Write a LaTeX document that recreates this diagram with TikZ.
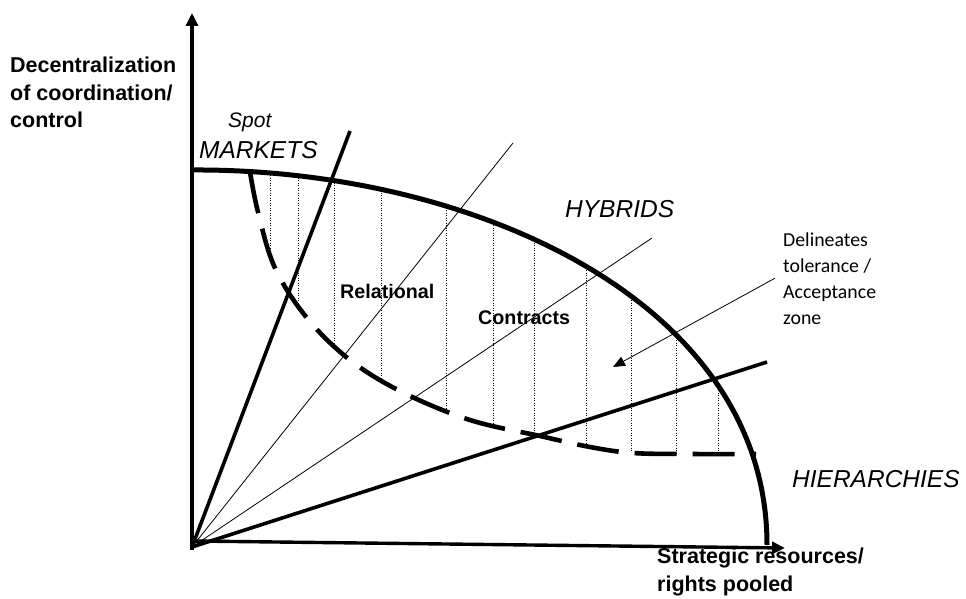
\documentclass[tikz,border=0pt]{standalone}
\usepackage{fontspec}
\setmainfont{Liberation Sans}
\newfontfamily\notefont{Carlito}
\usetikzlibrary{arrows.meta, positioning}
\tikzset{thickray/.style={line width=3.6pt}}
\tikzset{thinray/.style={line width=0.8pt}}
\tikzset{axis/.style={line width=3.4pt, -{Triangle[length=13pt, width=12pt]}}}
\tikzset{frontier/.style={line width=5pt}}
\tikzset{zoneline/.style={line width=4.6pt, dash pattern=on 42pt off 16pt}}
\tikzset{hatch/.style={line width=0.6pt, dash pattern=on 1pt off 1.5pt}}
\tikzset{pointer/.style={line width=0.8pt, -{Triangle[length=12pt, width=10pt]}}}
\tikzset{axlabel/.style={anchor=base west, inner sep=0pt, align=left, font=\bfseries\fontsize{21.5}{27.5}\selectfont}}
\tikzset{formlabel/.style={anchor=base west, inner sep=0pt, font=\itshape\fontsize{24.5}{28}\selectfont}}
\tikzset{zonelabel/.style={anchor=base west, inner sep=0pt, font=\bfseries\fontsize{19.7}{24}\selectfont}}
\tikzset{notelabel/.style={anchor=base west, inner sep=0pt, align=left, font=\notefont\fontsize{19.8}{26}\selectfont}}

\begin{document}
\begin{tikzpicture}[x=1pt, y=-1pt]
    \useasboundingbox (0,0) rectangle (966,599);

    \coordinate (O) at (192,547);
    \coordinate (ytop) at (192,13);
    \coordinate (ybot) at (192,550);
    \coordinate (xleft) at (192,541);
    \coordinate (xright) at (785,548);

    \begin{scope}
        \clip (191,170) .. controls (470,168) and (767,300) .. (767,545) -- (191,545) -- cycle;
        \clip plot[smooth, tension=0.6] coordinates {(250,172) (258,212) (275,268) (307,318) (350,360) (402,392) (470,420) (540,436) (590,447) (633,453) (690,454) (756,454)} -- (756,0) -- (250,0) -- cycle;
        \foreach \x in {270,298,334,381,446,493,534,586,631,676,718}
            \draw[hatch] (\x,150) -- (\x,470);
    \end{scope}

    \draw[axis] (ybot) -- (ytop);
    \draw[axis] (xleft) -- (xright);

    \coordinate (raya) at (350,131);
    \coordinate (rayb) at (513,143);
    \coordinate (rayc) at (652,238);
    \coordinate (rayd) at (767,362);
    \draw[thickray] (O) -- (raya);
    \draw[thinray] (O) -- (rayb);
    \draw[thinray] (O) -- (rayc);
    \draw[thickray] (O) -- (rayd);

    \draw[frontier] (191,170) .. controls (470,168) and (767,300) .. (767,545);
    \draw[zoneline] plot[smooth, tension=0.6] coordinates {(250,172) (258,212) (275,268) (307,318) (350,360) (402,392) (470,420) (540,436) (590,447) (633,453) (690,454) (756,454)};

    \node[axlabel] (ylabel) at (10,128) {Decentralization\\of coordination/\\control};
    \node[axlabel] (xlabel) at (657,591) {Strategic resources/\\rights pooled};
    \node[anchor=base west, inner sep=0pt, font=\itshape\fontsize{21}{24}\selectfont] (spot) at (228,128) {Spot};
    \node[formlabel] (markets) at (199,158) {MARKETS};
    \node[formlabel] (hybrids) at (565,217) {HYBRIDS};
    \node[formlabel] (hierarchies) at (792,487) {HIERARCHIES};
    \node[zonelabel] (relational) at (340,298) {Relational};
    \node[zonelabel] (contracts) at (478,324) {Contracts};
    \node[notelabel] (note) at (783,324) {Delineates\\tolerance /\\Acceptance\\zone};

    \coordinate (tip) at (613,367);
    \draw[pointer] ([xshift=-8pt]note.west) -- (tip);
\end{tikzpicture}
\end{document}
